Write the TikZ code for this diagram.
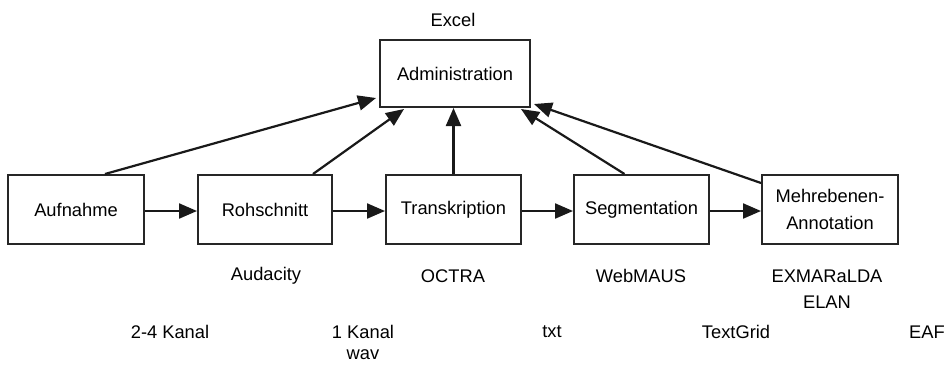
\documentclass[tikz,border=0pt]{standalone}
\usepackage{fontspec}
\setmainfont{Liberation Sans}
\usetikzlibrary{arrows.meta,calc}
\begin{document}
\begin{tikzpicture}[x=1pt,y=-1pt,
  stepbox/.style={draw=black!85,line width=2pt,rectangle,minimum height=69pt,inner sep=0pt,align=center,font=\fontsize{18.3}{27}\selectfont},
  lbl/.style={font=\fontsize{18.3}{21}\selectfont,inner sep=0pt,align=center},
  conn/.style={line width=2.2pt,draw=black!90,-{Triangle[length=18pt,width=15pt]}}]
\useasboundingbox (0,0) rectangle (950,365);
\node[stepbox,minimum width=150pt,minimum height=67pt] (adm) at (455,73.5) {Administration};
\node[lbl] (excel) at (453,20) {Excel};
\node[stepbox,minimum width=136pt] (aufn) at (76,209.5) {Aufnahme};
\node[stepbox,minimum width=134pt] (roh) at (265,209.5) {Rohschnitt};
\node[stepbox,minimum width=135pt] (trans) at (453.5,209.5) {\raisebox{3pt}{Transkription}};
\node[stepbox,minimum width=135pt] (seg) at (641.5,209.5) {Segmentation};
\node[stepbox,minimum width=136pt] (mehr) at (830,209.5) {Mehrebenen-\\Annotation};
\node[lbl] (aud) at (266,276) {Audacity};
\node[lbl] (oct) at (453,276) {OCTRA};
\node[lbl] (web) at (641,276) {WebMAUS};
\node[lbl] (exm) at (827,276) {EXMARaLDA};
\node[lbl] (elan) at (827,302) {ELAN};
\node[lbl] (k24) at (170,332) {2-4 Kanal};
\node[lbl] (k1) at (363,332) {1 Kanal};
\node[lbl] (wav) at (363,355) {wav};
\node[lbl] (txt) at (552,332) {txt};
\node[lbl] (tg) at (736,332) {TextGrid};
\node[lbl] (eaf) at (927,332) {EAF};
\draw[conn] ([yshift=-1.5pt]aufn.east) -- ([yshift=-1.5pt]roh.west);
\draw[conn] ([yshift=-1.5pt]roh.east) -- ([yshift=-1.5pt]trans.west);
\draw[conn] ([yshift=-1.5pt]trans.east) -- ([yshift=-1.5pt]seg.west);
\draw[conn] ([yshift=-1.5pt]seg.east) -- ([yshift=-1.5pt]mehr.west);
\draw[conn] ([xshift=29pt]aufn.north) -- ([xshift=-3pt,yshift=10pt]adm.south west);
\draw[conn] ([xshift=48pt]roh.north) -- ([xshift=25pt,yshift=-1pt]adm.south west);
\draw[conn] (trans.north) -- (trans.north |- adm.south);
\draw[conn] ([xshift=-17pt]seg.north) -- ([xshift=-10pt,yshift=-1pt]adm.south east);
\draw[conn] ([yshift=-9pt]mehr.north west) -- ([xshift=3pt,yshift=4pt]adm.south east);
\end{tikzpicture}
\end{document}
